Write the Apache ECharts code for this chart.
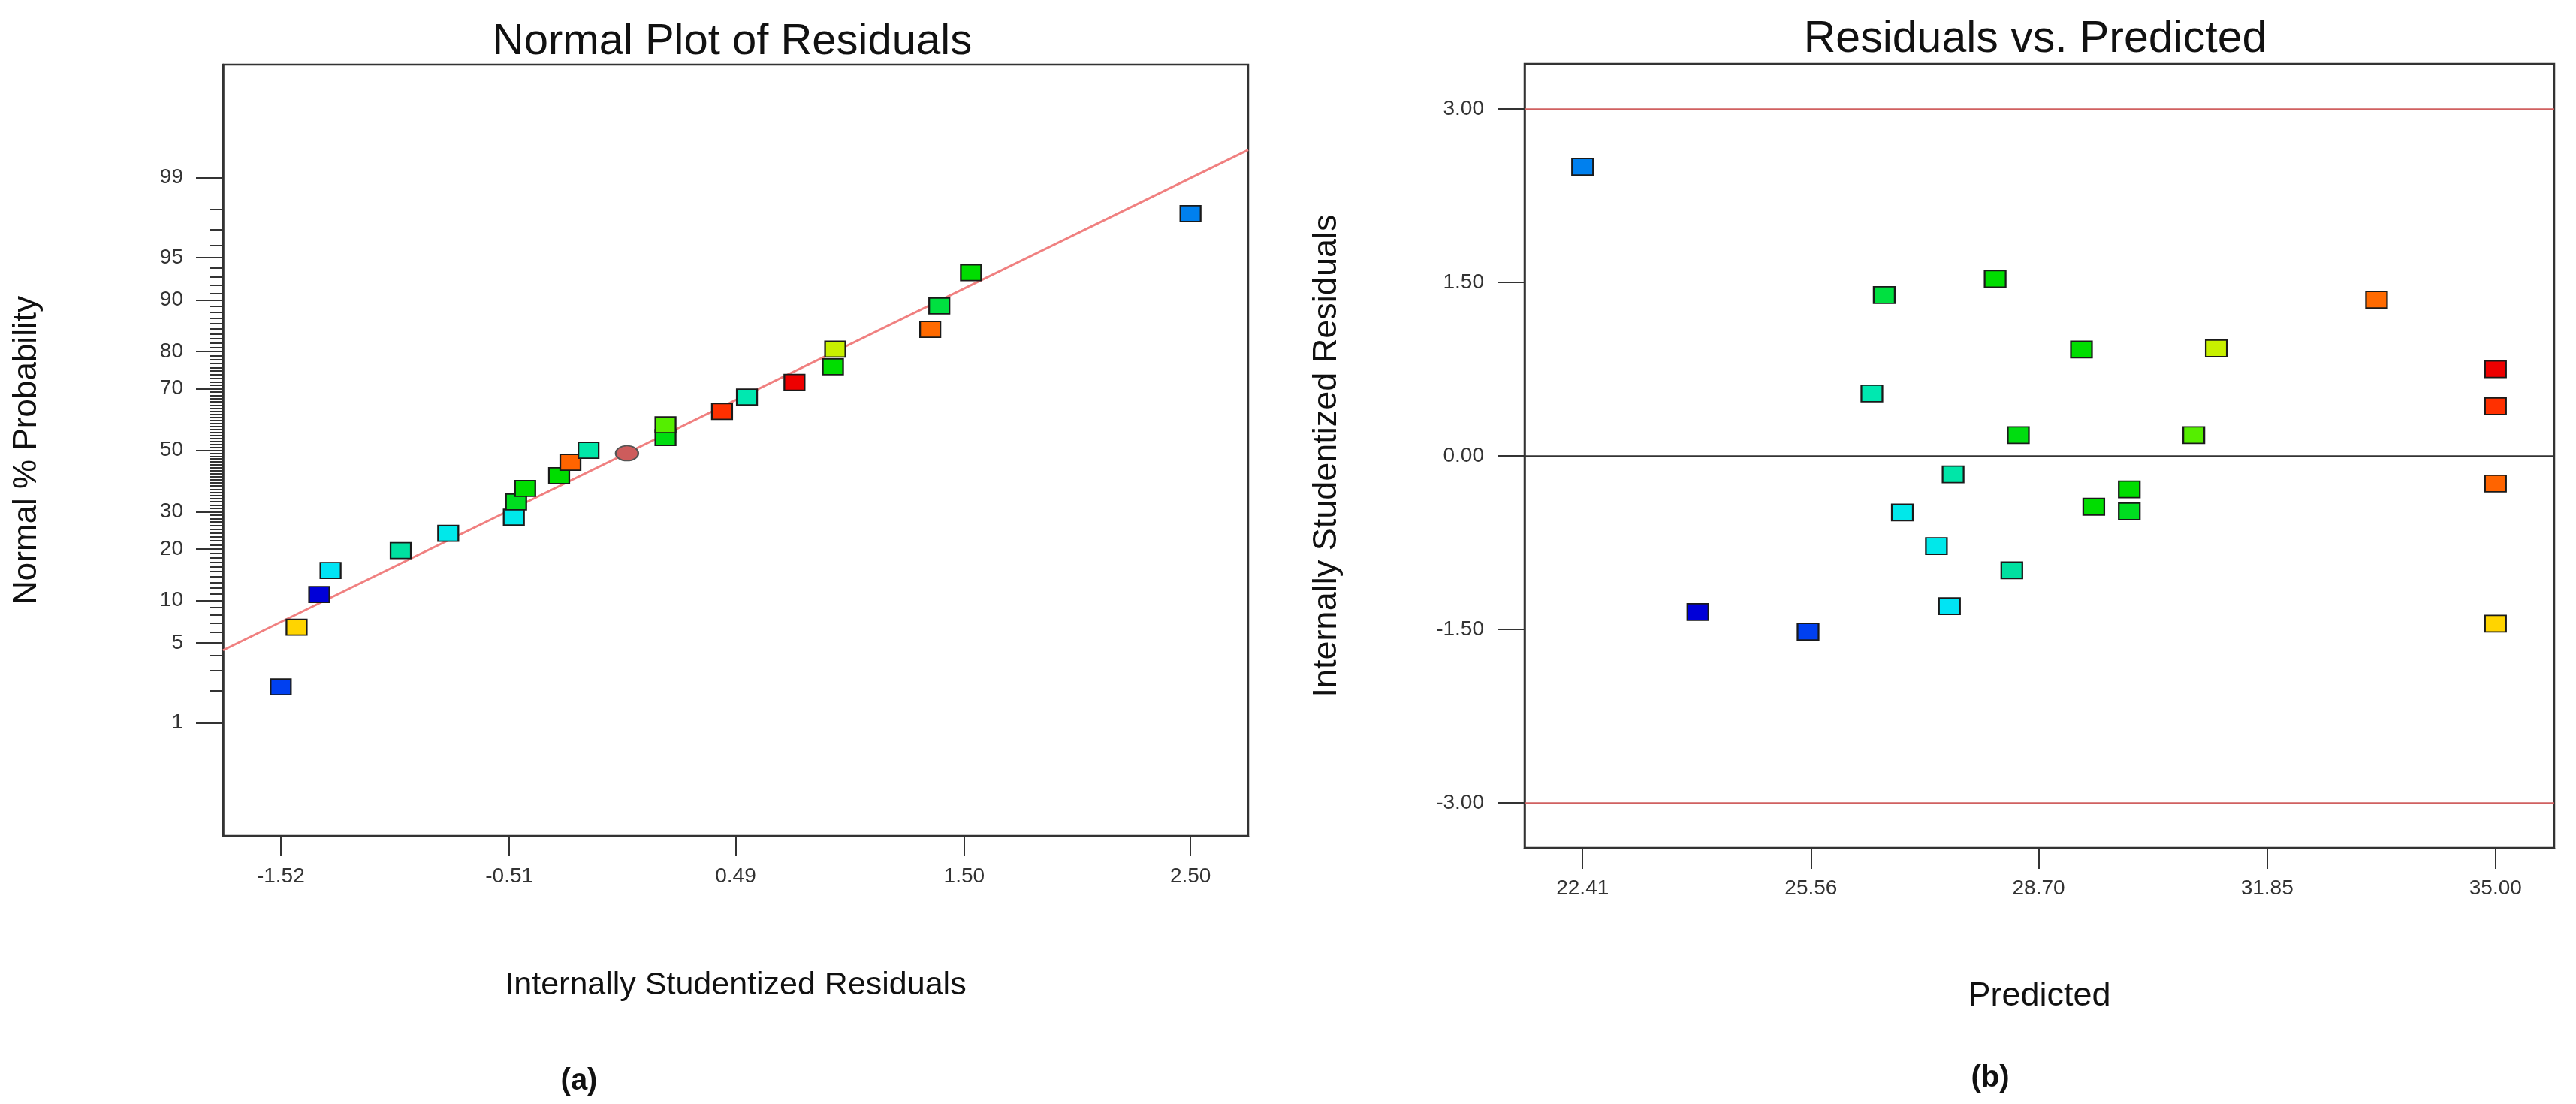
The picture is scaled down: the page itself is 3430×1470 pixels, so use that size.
<!DOCTYPE html>
<html>
<head>
<meta charset="utf-8">
<title>Residual plots</title>
<script src="https://cdn.jsdelivr.net/npm/echarts@6/dist/echarts.min.js"></script>
<style>
  html, body { margin: 0; padding: 0; background: #fff; }
  #main { width: 3430px; height: 1470px; }
</style>
</head>
<body>
<div id="main"></div>
<script>
// runs sorted by residual
const residuals = [-1.52, -1.45, -1.35, -1.30, -0.99, -0.78, -0.49, -0.48, -0.44, -0.29, -0.24, -0.16, 0.18, 0.18, 0.43, 0.54, 0.75, 0.92, 0.93, 1.35, 1.39, 1.53, 2.50]
const predicted = [25.52, 35.00, 24.00, 27.47, 28.33, 27.29, 26.82, 29.95, 29.46, 29.95, 35.00, 27.52, 28.42, 30.84, 35.00, 26.40, 35.00, 29.29, 31.15, 33.36, 26.57, 28.10, 22.41]
const probabilities = [2.17, 6.55, 10.9, 15.25, 19.6, 23.9, 28.4, 32.96, 37.2, 41.4, 45.9, 49.96, 54.3, 58.6, 62.97, 67.5, 71.9, 76.2, 80.6, 84.87, 89.1, 93.5, 97.83]
const pointColors = ['#0040f0', '#ffd400', '#0000d8', '#00e4f4', '#00e0a0', '#00e8ea', '#00e8ea', '#00dd20', '#00dd00', '#00dd00', '#ff6400', '#00e6a8', '#00dd10', '#55ee00', '#ff3000', '#00e8b0', '#ee0000', '#00dd00', '#c8f000', '#ff6a00', '#00e040', '#00dd00', '#0080ee']

// the round marker at the centre of the normal plot
const circleResidual = [0.01]
const circleProb = [48.97]

// fitted normal line (residual, % probability)
const lineResiduals = [-1.775, 2.755]
const lineProbs = [4.40, 99.48]

// axis ticks
const probTicks = [1, 5, 10, 20, 30, 50, 70, 80, 90, 95, 99]
const probMinorTicks = []
for (let p = 1; p <= 99; p++) probMinorTicks.push(p)
const probRange = [0.05, 99.95]
const residTicksA = [-1.52, -0.51, 0.49, 1.50, 2.50]
const predTicksB = [22.41, 25.56, 28.70, 31.85, 35.00]
const residTicksB = [-3.00, -1.50, 0.00, 1.50, 3.00]
const limitLines = [3.00, -3.00]

// inverse normal cdf (Acklam), used for the probability scale
function probit(p) {
    const a = [-3.969683028665376e+01, 2.209460984245205e+02, -2.759285104469687e+02, 1.383577518672690e+02, -3.066479806614716e+01, 2.506628277459239e+00]
    const b = [-5.447609879822406e+01, 1.615858368580409e+02, -1.556989798598866e+02, 6.680131188771972e+01, -1.328068155288572e+01]
    const c = [-7.784894002430293e-03, -3.223964580411365e-01, -2.400758277161838e+00, -2.549732539343734e+00, 4.374664141464968e+00, 2.938163982698783e+00]
    const d = [7.784695709041462e-03, 3.224671290700398e-01, 2.445134137142996e+00, 3.754408661907416e+00]
    const pl = 0.02425
    let q, r
    if (p < pl) {
        q = Math.sqrt(-2 * Math.log(p))
        return (((((c[0] * q + c[1]) * q + c[2]) * q + c[3]) * q + c[4]) * q + c[5]) / ((((d[0] * q + d[1]) * q + d[2]) * q + d[3]) * q + 1)
    }
    if (p > 1 - pl) {
        q = Math.sqrt(-2 * Math.log(1 - p))
        return -(((((c[0] * q + c[1]) * q + c[2]) * q + c[3]) * q + c[4]) * q + c[5]) / ((((d[0] * q + d[1]) * q + d[2]) * q + d[3]) * q + 1)
    }
    q = p - 0.5
    r = q * q
    return (((((a[0] * r + a[1]) * r + a[2]) * r + a[3]) * r + a[4]) * r + a[5]) * q / (((((b[0] * r + b[1]) * r + b[2]) * r + b[3]) * r + b[4]) * r + 1)
}
const z = pct => probit(pct / 100)

const FONT = "'Liberation Sans', Arial, sans-serif"
const AXIS_COLOR = '#333'
const majorZ = probTicks.map(z)

const tickLabel = { fontFamily: FONT, fontSize: 28, color: '#333' }
const axisLine = { show: true, onZero: false, lineStyle: { color: AXIS_COLOR, width: 2.5 } }

const myChart = echarts.init(document.getElementById('main'), null, { renderer: 'canvas' })

const option = {
    animation: false,
    backgroundColor: '#fff',
    grid: [
        { left: 297, top: 86, width: 1365, height: 1027, show: true, borderColor: AXIS_COLOR, borderWidth: 2.5, backgroundColor: '#fff' },
        { left: 2030, top: 85, width: 1371, height: 1044, show: true, borderColor: AXIS_COLOR, borderWidth: 2.5, backgroundColor: '#fff' }
    ],
    graphic: [
        { type: 'text', x: 975, y: 56, style: { text: 'Normal Plot of Residuals', font: '58px ' + FONT, fill: '#111', align: 'center', verticalAlign: 'middle', textAlign: 'center', textVerticalAlign: 'middle' } },
        { type: 'text', x: 2710, y: 53, style: { text: 'Residuals vs. Predicted', font: '59px ' + FONT, fill: '#111', align: 'center', verticalAlign: 'middle', textAlign: 'center', textVerticalAlign: 'middle' } },
        { type: 'text', x: 771, y: 1440, style: { text: '(a)', font: 'bold 40px ' + FONT, fill: '#111', align: 'center', verticalAlign: 'middle', textAlign: 'center', textVerticalAlign: 'middle' } },
        { type: 'text', x: 2650, y: 1436, style: { text: '(b)', font: 'bold 40px ' + FONT, fill: '#111', align: 'center', verticalAlign: 'middle', textAlign: 'center', textVerticalAlign: 'middle' } }
    ],
    xAxis: [
        {
            type: 'value', gridIndex: 0, position: 'bottom',
            min: -1.775, max: 2.755,
            name: 'Internally Studentized Residuals',
            nameLocation: 'middle', nameGap: 178,
            nameTextStyle: { fontFamily: FONT, fontSize: 43, color: '#111' },
            axisLine: axisLine,
            axisTick: { show: true, inside: false, length: 27, lineStyle: { color: AXIS_COLOR, width: 2 }, customValues: residTicksA },
            axisLabel: Object.assign({ margin: 40, customValues: residTicksA, formatter: v => v.toFixed(2) }, tickLabel),
            splitLine: { show: false }
        },
        {
            type: 'value', gridIndex: 1, position: 'bottom',
            min: 21.61, max: 35.81,
            name: 'Predicted',
            nameLocation: 'middle', nameGap: 175,
            nameTextStyle: { fontFamily: FONT, fontSize: 45, color: '#111' },
            axisLine: axisLine,
            axisTick: { show: true, inside: false, length: 28, lineStyle: { color: AXIS_COLOR, width: 2 }, customValues: predTicksB },
            axisLabel: Object.assign({ margin: 40, customValues: predTicksB, formatter: v => v.toFixed(2) }, tickLabel),
            splitLine: { show: false }
        }
    ],
    yAxis: [
        {
            type: 'value', gridIndex: 0, position: 'left',
            min: z(probRange[0]), max: z(probRange[1]),
            name: 'Normal % Probability',
            nameLocation: 'middle', nameGap: 239, nameRotate: 90,
            nameTextStyle: { fontFamily: FONT, fontSize: 44, color: '#111' },
            axisLine: axisLine,
            axisTick: { show: true, inside: false, length: 36, lineStyle: { color: AXIS_COLOR, width: 2 }, customValues: majorZ },
            axisLabel: Object.assign({
                margin: 53, customValues: majorZ,
                formatter: v => {
                    const i = majorZ.findIndex(m => Math.abs(m - v) < 1e-6)
                    return i >= 0 ? String(probTicks[i]) : ''
                }
            }, tickLabel),
            splitLine: { show: false }
        },
        {
            // minor probability ticks
            type: 'value', gridIndex: 0, position: 'left', offset: 0,
            min: z(probRange[0]), max: z(probRange[1]),
            axisLine: { show: false, onZero: false },
            axisTick: { show: true, inside: false, length: 17, lineStyle: { color: AXIS_COLOR, width: 2 }, customValues: probMinorTicks.map(z) },
            axisLabel: { show: false },
            splitLine: { show: false }
        },
        {
            type: 'value', gridIndex: 1, position: 'left',
            min: -3.39, max: 3.39,
            name: 'Internally Studentized Residuals',
            nameLocation: 'middle', nameGap: 241, nameRotate: 90,
            nameTextStyle: { fontFamily: FONT, fontSize: 45, color: '#111' },
            axisLine: axisLine,
            axisTick: { show: true, inside: false, length: 36, lineStyle: { color: AXIS_COLOR, width: 2 }, customValues: residTicksB },
            axisLabel: Object.assign({ margin: 54, customValues: residTicksB, formatter: v => v.toFixed(2) }, tickLabel),
            splitLine: { show: false }
        }
    ],
    series: [
        {
            // fitted normal line
            type: 'line', xAxisIndex: 0, yAxisIndex: 0,
            data: lineResiduals.map((r, i) => [r, z(lineProbs[i])]),
            symbol: 'none', silent: true, z: 1,
            lineStyle: { color: '#f08080', width: 3 }
        },
        {
            type: 'scatter', xAxisIndex: 0, yAxisIndex: 0,
            data: residuals.map((r, i) => [r, z(probabilities[i])]),
            symbol: 'rect', symbolSize: [27, 21], z: 3,
            itemStyle: { color: p => pointColors[p.dataIndex], borderColor: '#1a1a1a', borderWidth: 2, opacity: 1 }
        },
        {
            type: 'scatter', xAxisIndex: 0, yAxisIndex: 0,
            data: circleResidual.map((r, i) => [r, z(circleProb[i])]),
            symbol: 'path://M0,10 A10,10 0 1,1 20,10 A10,10 0 1,1 0,10 Z',
            symbolSize: [30, 20], z: 3,
            itemStyle: { color: '#cd5c5c', borderColor: '#555', borderWidth: 2, opacity: 1 }
        },
        {
            type: 'scatter', xAxisIndex: 1, yAxisIndex: 2,
            data: predicted.map((p, i) => [p, residuals[i]]),
            symbol: 'rect', symbolSize: [28, 22], z: 3,
            itemStyle: { color: p => pointColors[p.dataIndex], borderColor: '#1a1a1a', borderWidth: 2, opacity: 1 },
            markLine: {
                silent: true, symbol: ['none', 'none'], label: { show: false },
                data: limitLines.map(v => ({ yAxis: v, lineStyle: { color: '#d06060', width: 2.5, type: 'solid' } }))
                    .concat([{ yAxis: 0, lineStyle: { color: '#333', width: 2.5, type: 'solid' } }])
            }
        }
    ]
}

myChart.setOption(option)
</script>
</body>
</html>
